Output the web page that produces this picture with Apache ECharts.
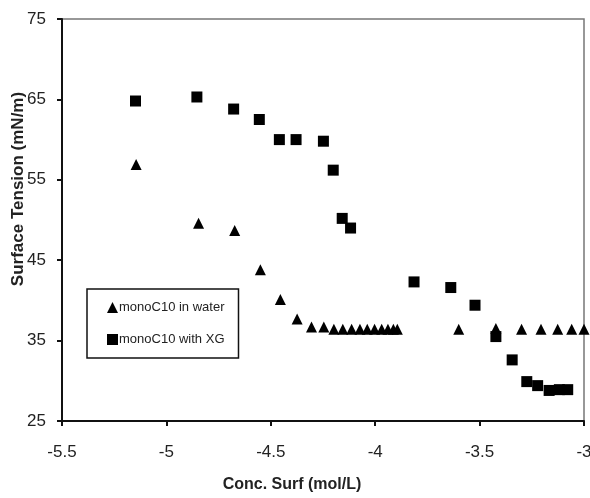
<!DOCTYPE html>
<html>
<head>
<meta charset="utf-8">
<script src="https://cdn.jsdelivr.net/npm/echarts@6/dist/echarts.min.js"></script>
<style>
  html, body { margin: 0; padding: 0; background: #fff; }
  #chart { width: 590px; height: 498px; }
</style>
</head>
<body>
<div id="chart"></div>
<script>
// monoC10 in water (triangles)
const waterX = [-5.145, -4.846, -4.673, -4.550, -4.454, -4.374, -4.305, -4.246,
  -4.198, -4.155, -4.113, -4.073, -4.038, -4.003, -3.969, -3.939, -3.913, -3.894,
  -3.600, -3.422, -3.299, -3.206, -3.126, -3.059, -3.0];
const waterY = [56.9, 49.6, 48.7, 43.8, 40.1, 37.7, 36.7, 36.7,
  36.4, 36.4, 36.4, 36.4, 36.4, 36.4, 36.4, 36.4, 36.4, 36.4,
  36.4, 36.5, 36.4, 36.4, 36.4, 36.4, 36.4];
// monoC10 with XG (squares)
const xgX = [-5.148, -4.854, -4.678, -4.555, -4.459, -4.379, -4.248, -4.201, -4.158, -4.118,
  -3.814, -3.638, -3.522, -3.422, -3.344, -3.274, -3.222, -3.167, -3.118, -3.078];
const xgY = [64.8, 65.3, 63.8, 62.5, 60.0, 60.0, 59.8, 56.2, 50.2, 49.0,
  42.3, 41.6, 39.4, 35.5, 32.6, 29.9, 29.4, 28.8, 28.9, 28.9];

const pairs = (xs, ys) => xs.map((x, i) => [x, ys[i]]);

const chart = echarts.init(document.getElementById('chart'));
const font = 'Liberation Sans';
const axisLbl = { color: '#222', fontSize: 17, fontFamily: font };

chart.setOption({
  animation: false,
  grid: {
    left: 62, right: 6, top: 19, bottom: 77, outerBoundsMode: 'none', containLabel: false,
    show: true, borderColor: '#777', borderWidth: 1.5
  },
  xAxis: {
    type: 'value', min: -5.5, max: -3, interval: 0.5,
    name: 'Conc. Surf (mol/L)', nameLocation: 'middle', nameGap: 56, nameMoveOverlap: false,
    nameTextStyle: { color: '#222', fontSize: 16, fontWeight: 'bold', fontFamily: font, padding: [0, 62, 0, 0] },
    axisLine: { show: true, onZero: false, lineStyle: { color: '#111', width: 2 } },
    axisTick: { show: true, length: 5, lineStyle: { color: '#111', width: 2 } },
    axisLabel: Object.assign({ margin: 23 }, axisLbl),
    splitLine: { show: false }
  },
  yAxis: {
    type: 'value', min: 25, max: 75, interval: 10,
    name: 'Surface Tension (mN/m)', nameLocation: 'middle', nameGap: 35, nameMoveOverlap: false,
    nameTextStyle: { color: '#222', fontSize: 17, fontWeight: 'bold', fontFamily: font, padding: [0, 0, 0, 62] },
    axisLine: { show: true, lineStyle: { color: '#111', width: 2 } },
    axisTick: { show: true, length: 5, lineStyle: { color: '#111', width: 2 } },
    axisLabel: Object.assign({ margin: 16 }, axisLbl),
    splitLine: { show: false }
  },
  legend: {
    orient: 'vertical', left: 87, top: 289,
    padding: [12, 14, 12, 20], itemGap: 19, itemWidth: 11, itemHeight: 11,
    borderColor: '#111', borderWidth: 1.5,
    textStyle: { color: '#222', fontSize: 13, fontFamily: font, padding: [0, 0, 0, -4] },
    data: [
      { name: 'monoC10 in water', icon: 'triangle' },
      { name: 'monoC10 with XG', icon: 'rect' }
    ]
  },
  series: [
    {
      name: 'monoC10 in water', type: 'scatter', symbol: 'triangle', symbolSize: 11,
      itemStyle: { color: '#000', opacity: 1 }, data: pairs(waterX, waterY)
    },
    {
      name: 'monoC10 with XG', type: 'scatter', symbol: 'rect', symbolSize: 11,
      itemStyle: { color: '#000', opacity: 1 }, data: pairs(xgX, xgY)
    }
  ]
});
</script>
</body>
</html>
